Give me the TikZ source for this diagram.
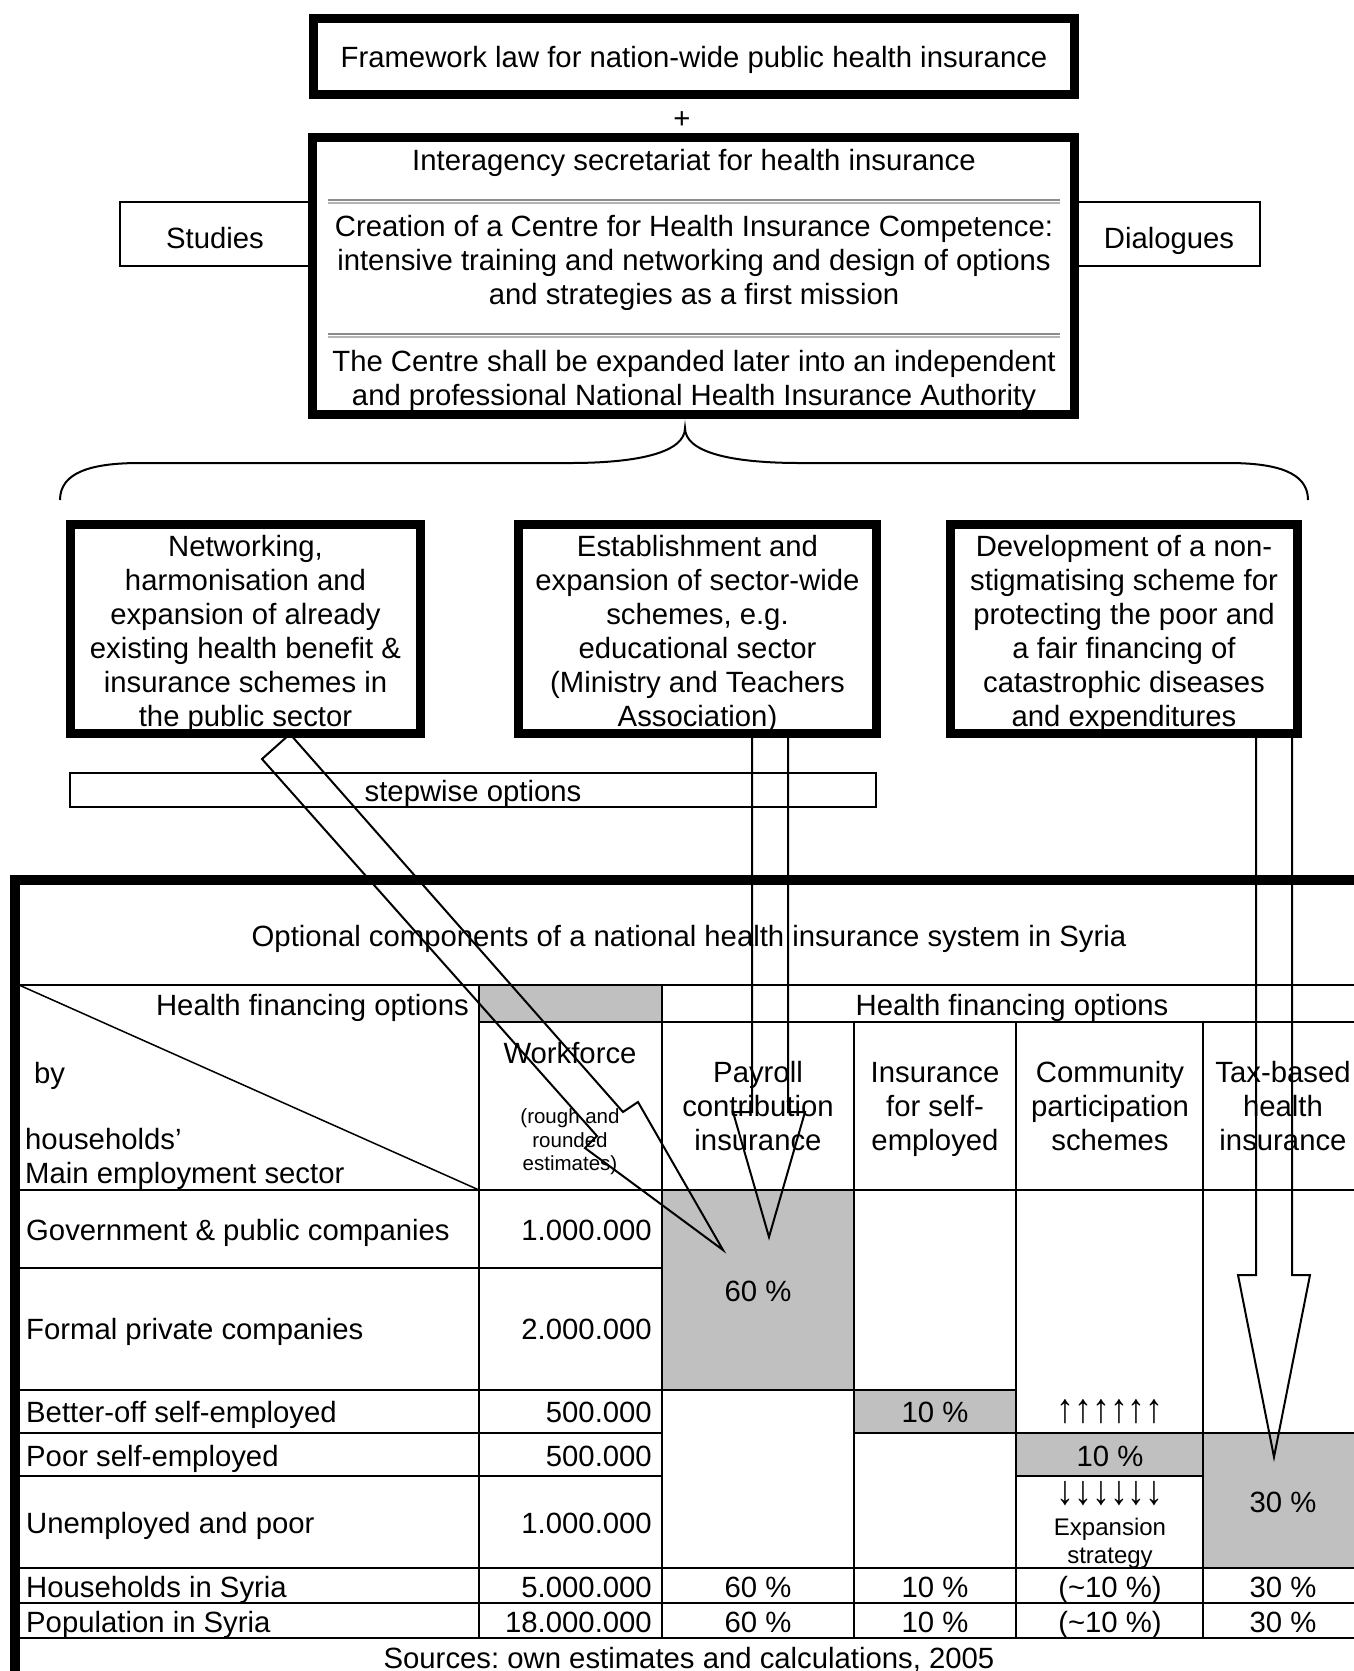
\documentclass[tikz,border=0pt]{standalone}
\usepackage{fontspec}
\setmainfont{Liberation Sans}
\usetikzlibrary{calc}
\definecolor{cellgray}{HTML}{C0C0C0}
\definecolor{sepdark}{HTML}{8C8C8C}
\definecolor{seplight}{HTML}{B4B4B4}
\frenchspacing
\begin{document}
\begin{tikzpicture}[x=1pt,y=-1pt,
  thickbox/.style={draw, line width=9pt, inner sep=0pt},
  thinbox/.style={draw, line width=2pt, inner sep=0pt},
  txt/.style={inner sep=0pt, font=\fontsize{29.3}{34}\selectfont\frenchspacing, align=center},
  one/.style={txt, text height=28pt, text depth=6pt},
  sidetxt/.style={txt, text height=35pt, text depth=6pt},
  small/.style={inner sep=0pt, font=\fontsize{20.5}{23.5}\selectfont, align=center},
  mid/.style={inner sep=0pt, font=\fontsize{24}{27.5}\selectfont, align=center},
  tline/.style={line width=2.5pt},
  sepA/.style={draw=sepdark, line width=2pt},
  sepB/.style={draw=seplight, line width=2pt},
  blockarrow/.style={draw, line width=2pt, line join=miter},
  bracestyle/.style={line width=2pt}]
\path[use as bounding box] (0,0) rectangle (1354,1671);
\clip (0,0) rectangle (1354,1671);

% ---------------- table: fills ----------------
\fill[cellgray] (479,985) rectangle (662,1022);
\fill[cellgray] (662,1190) rectangle (854,1390);
\fill[cellgray] (854,1390) rectangle (1016,1433);
\fill[cellgray] (1016,1433) rectangle (1203,1476);
\fill[cellgray] (1203,1433) rectangle (1380,1568);

% ---------------- table: lines ----------------
\draw[tline] (14.5,985) -- (1380,985);
\draw[tline] (479,1022) -- (1380,1022);
\draw[tline] (14.5,1190) -- (1380,1190);
\draw[tline] (14.5,1268) -- (662,1268);
\draw[tline] (14.5,1390) -- (1016,1390);
\draw[tline] (14.5,1433) -- (662,1433) (854,1433) -- (1380,1433);
\draw[tline] (14.5,1476) -- (662,1476) (1016,1476) -- (1203,1476);
\draw[tline] (14.5,1568) -- (1380,1568);
\draw[tline] (14.5,1603) -- (1380,1603);
\draw[tline] (14.5,1638) -- (1380,1638);
\draw[tline] (479,985) -- (479,1638);
\draw[tline] (662,985) -- (662,1638);
\draw[tline] (854,1022) -- (854,1638);
\draw[tline] (1016,1022) -- (1016,1638);
\draw[tline] (1203,1022) -- (1203,1638);
\draw[line width=1.5pt] (19,985) -- (479,1190);
\draw[line width=10pt] (14.5,1690) -- (14.5,880) -- (1390,880);

% ---------------- table: texts ----------------
\node[one] (title) at (689,935) {Optional components of a national health insurance system in Syria};
\node[one, anchor=east] (hfl) at (469,1004) {Health financing options};
\node[one] (hfr) at (1012,1004) {Health financing options};
\node[one, anchor=west] (by) at (34,1072) {by};
\node[txt, anchor=west, align=left] (hhs) at (25,1159) {households’\\Main employment sector};
\node[one] (wf) at (570,1052) {Workforce};
\node[small] (wfs) at (570,1142) {(rough and\\rounded\\estimates)};
\node[txt] (hpay) at (758,1106) {Payroll\\contribution\\insurance};
\node[txt] (hins) at (935,1109) {Insurance\\for self-\\employed};
\node[txt] (hcom) at (1110,1106) {Community\\participation\\schemes};
\node[txt] (htax) at (1283,1106) {Tax-based\\health\\insurance};

\node[one, anchor=west] (r1) at (26,1229) {Government \& public companies};
\node[one, anchor=east] (n1) at (652,1229) {1.000.000};
\node[one, anchor=west] (r2) at (26,1328) {Formal private companies};
\node[one, anchor=east] (n2) at (652,1328) {2.000.000};
\node[one, anchor=west] (r3) at (26,1411) {Better-off self-employed};
\node[one, anchor=east] (n3) at (652,1411) {500.000};
\node[one, anchor=west] (r4) at (26,1455) {Poor self-employed};
\node[one, anchor=east] (n4) at (652,1455) {500.000};
\node[one, anchor=west] (r5) at (26,1522) {Unemployed and poor};
\node[one, anchor=east] (n5) at (652,1522) {1.000.000};
\node[one, anchor=west] (r6) at (26,1586) {Households in Syria};
\node[one, anchor=east] (n6) at (652,1586) {5.000.000};
\node[one, anchor=west] (r7) at (26,1621) {Population in Syria};
\node[one, anchor=east] (n7) at (652,1621) {18.000.000};

\node[one] (p60) at (758,1290) {60 \%};
\node[one] (p10a) at (935,1411) {10 \%};
\node[one] (p10b) at (1110,1455) {10 \%};
\node[one] (p30) at (1283,1501) {30 \%};
\node[txt] (ups) at (1110,1412) {\scalebox{1.22}[1.4]{↑↑↑↑↑↑}};
\node[txt] (downs) at (1110,1494) {\scalebox{1.22}[1.4]{↓↓↓↓↓↓}};
\node[mid] (exp) at (1110,1543.5) {Expansion\\strategy};

\node[one] (h60) at (758,1586) {60 \%};
\node[one] (h10) at (935,1586) {10 \%};
\node[one] (hc) at (1110,1586) {(\textasciitilde10 \%)};
\node[one] (h30) at (1283,1586) {30 \%};
\node[one] (q60) at (758,1621) {60 \%};
\node[one] (q10) at (935,1621) {10 \%};
\node[one] (qc) at (1110,1621) {(\textasciitilde10 \%)};
\node[one] (q30) at (1283,1621) {30 \%};
\node[one] (src) at (689,1657) {Sources: own estimates and calculations, 2005};

% ---------------- block arrows ----------------
\draw[blockarrow] (290,734) -- (623,1112) -- (638,1102) -- (723,1250) -- (585,1148) -- (597,1136) -- (262,759) -- cycle;
\draw[blockarrow] (752,734) -- (752,1112) -- (733,1112) -- (769,1237) -- (805,1112) -- (788,1112) -- (788,734);
\draw[blockarrow] (1256,734) -- (1256,1275) -- (1238,1275) -- (1274,1457) -- (1310,1275) -- (1292,1275) -- (1292,734);

% ---------------- upper part ----------------
\node[thinbox, sidetxt, minimum width=190pt, minimum height=64pt] (stud) at (215,234) {Studies};
\node[thinbox, sidetxt, minimum width=182pt, minimum height=64pt] (dial) at (1169,234) {Dialogues};
\node[thickbox, one, minimum width=761pt, minimum height=76pt] (law) at (694,56.5) {Framework law for nation-wide public health insurance};
\node[one] (plus) at (682,117) {+};
\node[thickbox, minimum width=762pt, minimum height=277pt] (sec) at (693.5,276) {};
\node[one] (inter) at (694,159) {Interagency secretariat for health insurance};
\draw[sepA] (328,199.5) -- (1060,199.5);
\draw[sepB] (328,202.5) -- (1060,202.5);
\node[txt] (centre) at (694,263) {Creation of a Centre for Health Insurance Competence:\\intensive training and networking and design of options\\and strategies as a first mission};
\draw[sepA] (328,333.5) -- (1060,333.5);
\draw[sepB] (328,336.5) -- (1060,336.5);
\node[txt] (auth) at (694,381) {The Centre shall be expanded later into an independent\\and professional National Health Insurance Authority};

% brace
\coordinate (bl) at (60,500);
\coordinate (bpeak) at (685,428);
\coordinate (br) at (1308,500);
\draw[bracestyle] (bl) .. controls (60,472) and (92,463) .. (140,463) -- (570,463)
  .. controls (640,463) and (685,452) .. (bpeak)
  .. controls (685,452) and (730,463) .. (800,463) -- (1228,463)
  .. controls (1276,463) and (1308,472) .. (br);

\node[thickbox, minimum width=350pt, minimum height=209pt] (A) at (245.5,629) {};
\node[thickbox, minimum width=358pt, minimum height=209pt] (B) at (697.5,629) {};
\node[thickbox, minimum width=347pt, minimum height=209pt] (C) at (1124,629) {};
\node[txt] (At) at (A.center) [yshift=-5pt] {Networking,\\harmonisation and\\expansion of already\\existing health benefit \&\\insurance schemes in\\the public sector};
\node[txt] (Bt) at (B.center) [yshift=-5pt] {Establishment and\\expansion of sector-wide\\schemes, e.g.\\educational sector\\(Ministry and Teachers\\Association)};
\node[txt] (Ct) at (C.center) [yshift=-5pt] {Development of a non-\\stigmatising scheme for\\protecting the poor and\\a fair financing of\\catastrophic diseases\\and expenditures};
\node[thinbox, one, minimum width=806pt, minimum height=34pt] (stepw) at (473,790) {stepwise options};
\end{tikzpicture}
\end{document}
